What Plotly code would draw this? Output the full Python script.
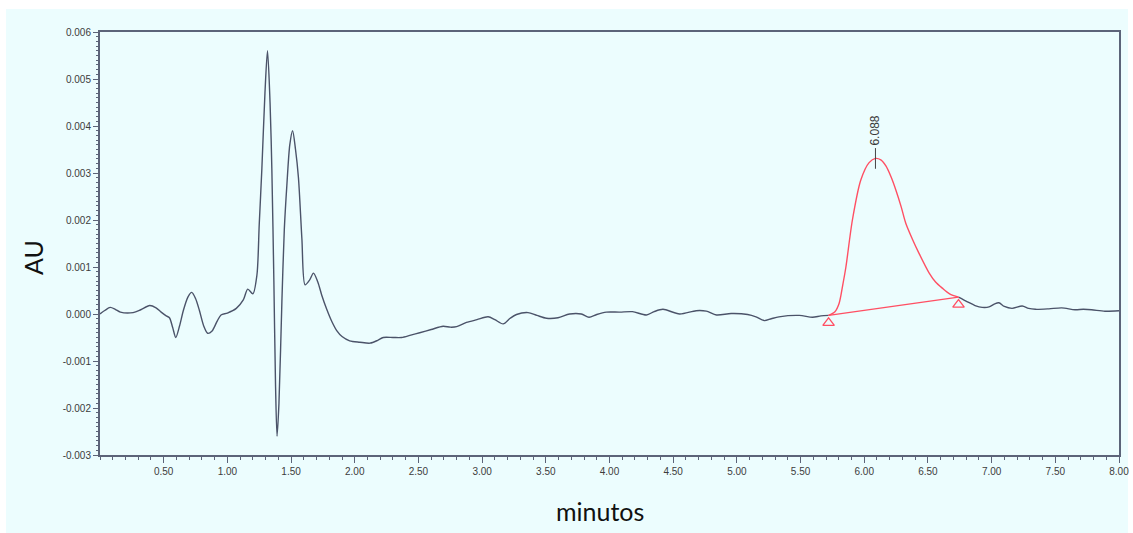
import plotly.graph_objects as go

# Chromatogram: time (min) vs absorbance (AU)
time_min = [
    0.00, 0.04, 0.08, 0.12, 0.16, 0.26, 0.32, 0.39, 0.44, 0.48, 0.52, 0.545, 0.57, 0.595,
    0.625, 0.655, 0.69, 0.72, 0.75, 0.78, 0.815, 0.845, 0.88, 0.92, 0.95, 1.00, 1.07,
    1.125, 1.16, 1.20, 1.232, 1.25, 1.271, 1.295, 1.315, 1.335, 1.349, 1.365, 1.378,
    1.39, 1.405, 1.428, 1.447, 1.467, 1.49, 1.512, 1.535, 1.558, 1.585, 1.61, 1.645,
    1.676, 1.71, 1.741, 1.78, 1.82, 1.86, 1.90, 1.96, 2.04, 2.12, 2.18, 2.224, 2.30,
    2.368, 2.44, 2.51, 2.60, 2.694, 2.75, 2.80, 2.877, 2.96, 3.047, 3.10, 3.165, 3.22,
    3.27, 3.36, 3.43, 3.505, 3.596, 3.687, 3.779, 3.839, 3.90, 3.975, 4.08, 4.18, 4.29,
    4.35, 4.42, 4.55, 4.68, 4.76, 4.84, 4.955, 5.085, 5.15, 5.215, 5.27, 5.33, 5.49,
    5.594, 5.66, 5.72, 5.77, 5.803, 5.83, 5.856, 5.907, 5.973, 6.038, 6.088, 6.13,
    6.17, 6.21, 6.248, 6.29, 6.326, 6.38, 6.43, 6.51, 6.56, 6.613, 6.67, 6.74, 6.81,
    6.87, 6.926, 6.98, 7.02, 7.057, 7.10, 7.16, 7.24, 7.29, 7.344, 7.45, 7.55, 7.655,
    7.72, 7.785, 7.89, 8.00,
]
absorbance_au = [
    0.00000, 0.00008, 0.00014, 0.00010, 0.00004, 0.00003, 0.00009, 0.00018, 0.00013,
    0.00004, -0.00004, -0.00008, -0.00028, -0.00050, -0.00025, 0.00008, 0.00036, 0.00046,
    0.00033, 0.00008, -0.00026, -0.00041, -0.00036, -0.00015, -0.00002, 0.00002, 0.00012,
    0.00030, 0.00053, 0.00043, 0.00083, 0.00190, 0.00310, 0.00470, 0.00560, 0.00450,
    0.00310, 0.00070, -0.00150, -0.00260, -0.00190, 0.00026, 0.00180, 0.00274, 0.00360,
    0.00390, 0.00350, 0.00290, 0.00160, 0.00062, 0.00072, 0.00087, 0.00068, 0.00040,
    0.00010, -0.00016, -0.00036, -0.00048, -0.00057, -0.00060, -0.00062, -0.00056,
    -0.00050, -0.00050, -0.00050, -0.00045, -0.00040, -0.00033, -0.00026, -0.00028,
    -0.00027, -0.00018, -0.00012, -0.00006, -0.00012, -0.00021, -0.00009, -0.00001,
    0.00003, -0.00003, -0.00009, -0.00008, 0.00000, 0.00000, -0.00007, -0.00001, 0.00004,
    0.00004, 0.00005, -0.00002, 0.00005, 0.00010, 0.00000, 0.00007, 0.00006, -0.00002,
    0.00001, -0.00001, -0.00006, -0.00014, -0.00010, -0.00006, -0.00003, -0.00007,
    -0.00004, -0.00003, 0.00005, 0.00023, 0.00060, 0.00100, 0.00200, 0.00285, 0.00322,
    0.00331, 0.00328, 0.00315, 0.00292, 0.00264, 0.00228, 0.00193, 0.00158, 0.00129,
    0.00087, 0.00068, 0.00055, 0.00043, 0.00036, 0.00026, 0.00018, 0.00014, 0.00015,
    0.00021, 0.00024, 0.00016, 0.00012, 0.00017, 0.00012, 0.00010, 0.00011, 0.00013,
    0.00009, 0.00010, 0.00009, 0.00006, 0.00007,
]

# Integrated peak
peak_start = 5.72
peak_end = 6.74
peak_rt = 6.088
peak_label = "6.088"

x_ticks = [0.5, 1.0, 1.5, 2.0, 2.5, 3.0, 3.5, 4.0, 4.5, 5.0, 5.5, 6.0, 6.5, 7.0, 7.5, 8.0]
x_tick_text = ["0.50", "1.00", "1.50", "2.00", "2.50", "3.00", "3.50", "4.00", "4.50",
               "5.00", "5.50", "6.00", "6.50", "7.00", "7.50", "8.00"]
y_ticks = [-0.003, -0.002, -0.001, 0.0, 0.001, 0.002, 0.003, 0.004, 0.005, 0.006]
y_tick_text = ["-0.003", "-0.002", "-0.001", "0.000", "0.001", "0.002", "0.003",
               "0.004", "0.005", "0.006"]

BG = "#ecfdfe"
TRACE = "#4b5369"
PEAK = "#ff4f63"
FRAME = "#5c6479"

i0 = time_min.index(peak_start)
i1 = time_min.index(peak_end)
apex_au = absorbance_au[time_min.index(peak_rt)]

fig = go.Figure()

line_style = dict(width=1.4, shape="spline", smoothing=0.8)
fig.add_trace(go.Scatter(x=time_min[:i0 + 1], y=absorbance_au[:i0 + 1], mode="lines",
                         line=dict(color=TRACE, **line_style), hoverinfo="skip"))
fig.add_trace(go.Scatter(x=time_min[i1:], y=absorbance_au[i1:], mode="lines",
                         line=dict(color=TRACE, **line_style), hoverinfo="skip"))
fig.add_trace(go.Scatter(x=time_min[i0:i1 + 1], y=absorbance_au[i0:i1 + 1], mode="lines",
                         line=dict(color=PEAK, **line_style), hoverinfo="skip"))

# Integration baseline and its start/end markers
base_x = [peak_start, peak_end]
base_y = [absorbance_au[i0], absorbance_au[i1]]
fig.add_trace(go.Scatter(x=base_x, y=base_y, mode="lines",
                         line=dict(color=PEAK, width=1.3), hoverinfo="skip"))
fig.add_trace(go.Scatter(x=base_x, y=[v - 0.00016 for v in base_y], mode="markers",
                         marker=dict(symbol="triangle-up-open", size=10, color=PEAK,
                                     line=dict(color=PEAK, width=1.3)),
                         hoverinfo="skip"))

# Retention-time marker on the apex
fig.add_shape(type="line", x0=peak_rt, x1=peak_rt, y0=apex_au - 0.00022, y1=apex_au + 0.00022,
              line=dict(color="#444444", width=1))
fig.add_annotation(x=peak_rt, y=apex_au + 0.00022, text=peak_label, textangle=-90,
                   showarrow=False, yanchor="bottom", xanchor="center", yshift=1,
                   font=dict(family="Liberation Sans", size=12, color="#3a3a3a"))

# Axis titles
fig.add_annotation(xref="paper", yref="paper", x=-0.0657, y=0.466, text="AU", textangle=-90,
                   showarrow=False, xanchor="center", yanchor="middle",
                   font=dict(family="Lato", size=25, color="#111111"))
fig.add_annotation(xref="paper", yref="paper", x=0.4907, y=-0.132, text="minutos",
                   showarrow=False, xanchor="center", yanchor="middle",
                   font=dict(family="Lato", size=25, color="#111111"))

# Light panel behind the whole chart
fig.add_shape(type="rect", xref="paper", yref="paper", x0=-0.0922, x1=1.0088,
              y0=-0.19, y1=1.0544, fillcolor=BG, line=dict(width=0), layer="below")

tick_font = dict(family="Liberation Sans", size=10, color="#3c3c3c")
fig.update_xaxes(range=[0, 8], tickvals=x_ticks, ticktext=x_tick_text, ticks="outside",
                 ticklen=6, tickwidth=1.2, tickcolor=FRAME, showline=True, linecolor=FRAME,
                 linewidth=2, mirror=True, showgrid=False, zeroline=False, tickfont=tick_font,
                 automargin=False,
                 minor=dict(tick0=0, dtick=0.1, ticks="outside", ticklen=3, tickwidth=1.2,
                            tickcolor=FRAME, showgrid=False))
fig.update_yaxes(range=[-0.003, 0.006], tickvals=y_ticks, ticktext=y_tick_text,
                 ticks="outside", ticklen=5, tickwidth=1.2, tickcolor=FRAME, showline=True,
                 linecolor=FRAME, linewidth=2, mirror=True, showgrid=False, zeroline=False,
                 tickfont=tick_font, automargin=False,
                 minor=dict(tick0=0, dtick=0.0001, ticks="outside", ticklen=2, tickwidth=1.2,
                            tickcolor=FRAME, showgrid=False))

fig.update_layout(width=1133, height=533, margin=dict(l=100, r=14, t=32, b=78),
                  paper_bgcolor="white", plot_bgcolor=BG, showlegend=False)

fig.write_html("out.html")
